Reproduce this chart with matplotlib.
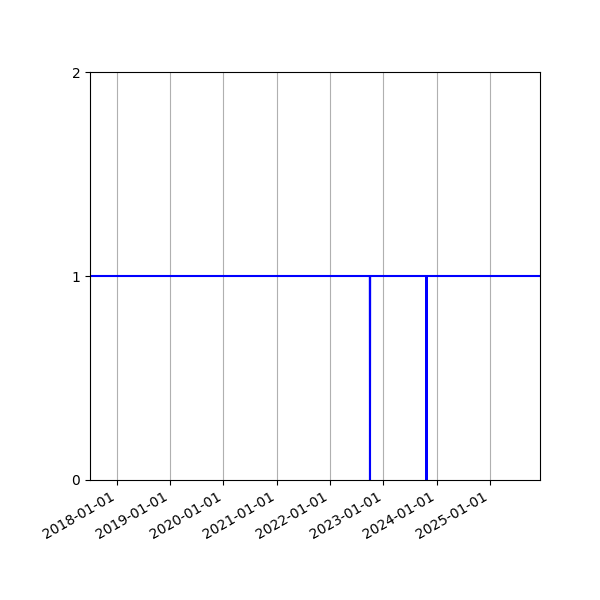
import numpy as np
import matplotlib.pyplot as plt
import matplotlib.dates as mdates
from datetime import datetime

# status samples (1 = up, 0 = down)
dates = [datetime(2017, 7, 1), datetime(2022, 9, 30), datetime(2022, 10, 1),
         datetime(2022, 10, 2), datetime(2023, 10, 22), datetime(2023, 10, 23),
         datetime(2023, 10, 24), datetime(2025, 12, 10)]
values = [1, 1, 0, 1, 1, 0, 1, 1]

fig, ax = plt.subplots(figsize=(6, 6), dpi=100)
ax.plot(dates, values, color="blue", linewidth=1.5)
ax.set_xlim(datetime(2017, 7, 2), datetime(2025, 12, 8))
ax.set_ylim(0, 2)
ax.set_yticks([0, 1, 2])
ax.xaxis.set_major_locator(mdates.YearLocator())
ax.xaxis.set_major_formatter(mdates.DateFormatter("%Y-%m-%d"))
ax.grid(axis="x")
fig.autofmt_xdate()
fig.subplots_adjust(left=0.15, right=0.9, top=0.88, bottom=0.2)
fig.savefig("out.png")
